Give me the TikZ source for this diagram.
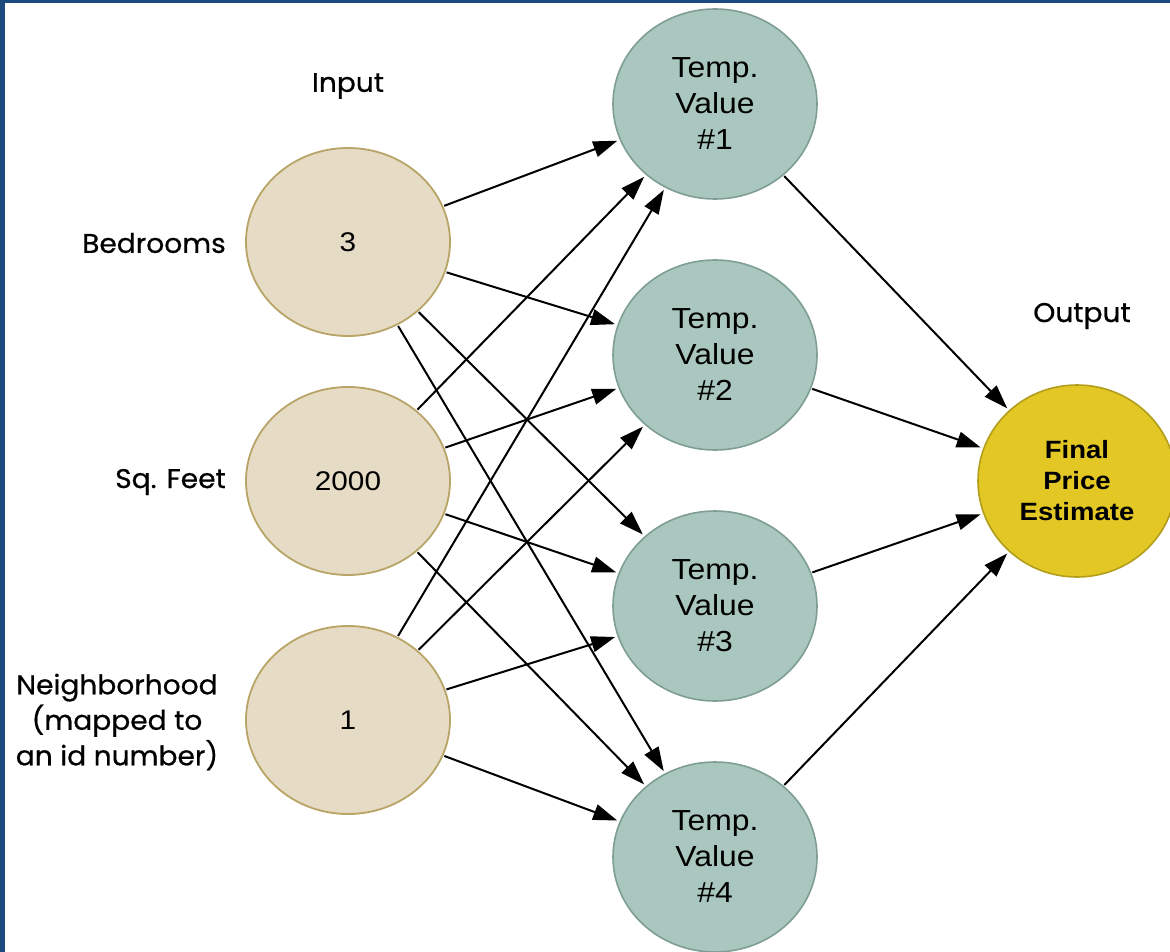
\documentclass[tikz,border=0pt]{standalone}
\usepackage{fontspec}
\setmainfont[FakeStretch=1.1]{Liberation Sans}
\newfontfamily\labelfont[FakeBold=0.6,FakeStretch=1.04]{Poppins}
\usetikzlibrary{shapes.geometric,arrows.meta}
\definecolor{frameblue}{HTML}{1C4A7E}
\definecolor{inFill}{HTML}{E6DCC5}
\definecolor{inDraw}{HTML}{B8A466}
\definecolor{hidFill}{HTML}{A9C7BE}
\definecolor{hidDraw}{HTML}{7E9E94}
\definecolor{outFill}{HTML}{E2C725}
\definecolor{outDraw}{HTML}{B39E1C}
\tikzset{
  innode/.style={ellipse, fill=inFill, draw=inDraw, line width=1.8pt, minimum width=204pt, minimum height=188pt, inner sep=0pt, font=\fontsize{27}{32}\selectfont},
  hidnode/.style={ellipse, fill=hidFill, draw=hidDraw, line width=1.6pt, minimum width=204pt, minimum height=190pt, inner sep=0pt, align=center, font=\fontsize{29}{36}\selectfont},
  outnode/.style={ellipse, fill=outFill, draw=outDraw, line width=1.6pt, minimum width=198pt, minimum height=192pt, inner sep=0pt, align=center, font=\fontsize{25}{31}\selectfont\bfseries},
  lbl/.style={font=\labelfont\fontsize{27}{35.5}\selectfont, inner sep=0pt, align=center},
  conn/.style={line width=2pt, -{Triangle[length=24pt,width=16pt]}, shorten >=2.5pt, shorten <=1pt}
}
\begin{document}
\begin{tikzpicture}[x=1pt,y=-1pt]
\useasboundingbox (0,0) rectangle (1170,952);
\fill[white] (0,0) rectangle (1170,952);
\fill[frameblue] (0,0) rectangle (1170,3);
\fill[frameblue] (0,0) rectangle (5,952);

\node[innode] (bed) at (348,242) {3};
\node[innode] (sqf) at (348,481) {2000};
\node[innode] (nbh) at (348,720) {1};

\node[hidnode] (t1) at (715,104) {Temp.\\Value\\\#1};
\node[hidnode] (t2) at (715,355) {Temp.\\Value\\\#2};
\node[hidnode] (t3) at (715,606) {Temp.\\Value\\\#3};
\node[hidnode] (t4) at (715,857) {Temp.\\Value\\\#4};

\node[outnode] (out) at (1077,481) {Final\\Price\\Estimate};

\node[lbl] (linput) at (348,86) {Input};
\node[lbl] (loutput) at (1082,316) {Output};
\node[lbl, anchor=east] (lbed) at (226,243) {Bedrooms};
\node[lbl, anchor=east] (lsqf) at (226,482) {Sq. Feet};
\node[lbl] (lnbh) at (117,722) {Neighborhood\\(mapped to\\an id number)};

\foreach \s in {bed,sqf,nbh}{
  \foreach \t in {t1,t2,t3,t4}{
    \draw[conn] (\s) -- (\t);
  }
}
\foreach \t in {t1,t2,t3,t4}{
  \draw[conn] (\t) -- (out);
}
\end{tikzpicture}
\end{document}
